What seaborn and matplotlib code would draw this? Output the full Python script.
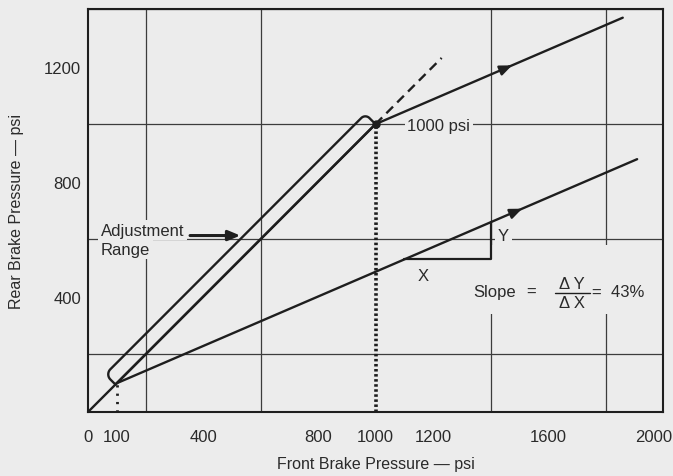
import numpy as np
import matplotlib
matplotlib.use("Agg")
import matplotlib.pyplot as plt
import matplotlib.transforms as mtransforms
import seaborn as sns

# Proportioning-valve characteristic, all pressures in psi
split_point = 1000      # front pressure where proportioning begins
min_split = 100         # lowest adjustable split point
slope = 0.43            # rear/front gain above the split point
dash_end = 1230         # 1:1 line continued past the split point

diag_front = [0, split_point]
diag_rear = [0, split_point]
high_front = [split_point, 1860]
low_front = [min_split, 1910]
high_rear = [split_point + slope * (f - split_point) for f in high_front]
low_rear = [min_split + slope * (f - min_split) for f in low_front]
dash_front = [split_point, dash_end]
dash_rear = [split_point, dash_end]

x_ticks = [0, 100, 400, 800, 1000, 1200, 1600, 2000]
y_ticks = [400, 800, 1200]
x_grid = list(range(0, 2001, 200))
y_grid = list(range(0, 1401, 200))

# adjustment band along the 1:1 line, in psi
band_width = 50
band_start = 135        # distance along the diagonal
band_r_top = 20
band_r_bot = 25

bg = "#ececec"
ink = "#1e1e1e"
grid_c = "#3c3c3c"
text_c = "#2a2a2a"

sns.set_theme(style="white")
plt.rcParams["font.family"] = ["Liberation Sans", "DejaVu Sans"]
plt.rcParams["text.color"] = text_c
plt.rcParams["axes.labelcolor"] = text_c
plt.rcParams["xtick.color"] = text_c
plt.rcParams["ytick.color"] = text_c

fig = plt.figure(figsize=(6.73, 4.77), dpi=100, facecolor=bg)
ax = fig.add_axes([88 / 673, 64 / 477, 575 / 673, 403 / 477], facecolor=bg)

ax.set_xlim(0, 2000)
ax.set_ylim(0, 1400)

# grid every 200 psi
ax.set_xticks(x_grid, minor=True)
ax.set_yticks(y_grid, minor=True)
ax.grid(which="minor", color=grid_c, lw=0.9, zorder=0)
ax.grid(which="major", visible=False)
ax.set_xticks(x_ticks)
ax.set_xticklabels([str(v) for v in x_ticks])
ax.set_yticks(y_ticks)
ax.set_yticklabels([str(v) for v in y_ticks])
ax.tick_params(axis="x", which="major", length=0, pad=12, labelsize=12)
ax.tick_params(axis="y", which="major", length=4, width=1, color=grid_c,
               direction="out", pad=1, labelsize=12)
ax.tick_params(which="minor", length=0)
for s in ax.spines.values():
    s.set_color(ink)
    s.set_linewidth(1.5)

# keep the last x label inside the figure edge
last = ax.get_xticklabels()[-1]
last.set_horizontalalignment("right")
last.set_transform(last.get_transform() +
                   mtransforms.ScaledTranslation(9 / 100, 0, fig.dpi_scale_trans))

ax.set_xlabel("Front Brake Pressure — psi", fontsize=11.5, labelpad=9)
ax.set_ylabel("Rear Brake Pressure — psi", fontsize=11.5, labelpad=14)

lw = 1.7
sns.lineplot(x=diag_front, y=diag_rear, ax=ax, color=ink, lw=lw, zorder=4)
sns.lineplot(x=high_front, y=high_rear, ax=ax, color=ink, lw=lw, zorder=4)
sns.lineplot(x=low_front, y=low_rear, ax=ax, color=ink, lw=lw, zorder=4)
sns.lineplot(x=dash_front, y=dash_rear, ax=ax, color=ink, lw=lw,
             linestyle=(0, (4, 2.5)), zorder=4)

# dotted drops to the split points
ax.plot([split_point, split_point], [0, split_point], color=ink, lw=2.6,
        linestyle=(0, (0.7, 0.7)), zorder=4)
ax.plot([min_split, min_split], [0, min_split], color=ink, lw=2.0,
        linestyle=(0, (0.8, 2.2)), zorder=4)
ax.plot([split_point], [split_point], "o", color=ink, ms=5, zorder=5)

# rounded adjustment band, built along the diagonal (u) and across it (v)
u1 = np.hypot(split_point, split_point)
u0 = band_start
w = band_width
t_top = np.linspace(0, np.pi / 2, 20)
t_bot = np.linspace(np.pi / 2, np.pi, 20)
u_pts = np.concatenate([[u0, u1, u1],
                        u1 - band_r_top + band_r_top * np.cos(t_top),
                        u0 + band_r_bot + band_r_bot * np.cos(t_bot),
                        [u0, u0]])
v_pts = np.concatenate([[0, 0, w - band_r_top],
                        w - band_r_top + band_r_top * np.sin(t_top),
                        w - band_r_bot + band_r_bot * np.sin(t_bot),
                        [w - band_r_bot, 0]])
band_x = (u_pts - v_pts) / np.sqrt(2)
band_y = (u_pts + v_pts) / np.sqrt(2)
ax.plot(band_x, band_y, color=ink, lw=lw, zorder=4)

head = "-|>,head_length=0.6,head_width=0.25"

# direction arrows on both proportioned lines
def line_arrow(xf, x_list, y_list):
    k = (y_list[1] - y_list[0]) / (x_list[1] - x_list[0])
    yf = y_list[0] + k * (xf - x_list[0])
    ax.annotate("", xy=(xf, yf), xytext=(xf - 40, yf - 40 * k),
                arrowprops=dict(arrowstyle=head, color=ink, lw=lw,
                                shrinkA=0, shrinkB=0),
                zorder=6)

line_arrow(1475, high_front, high_rear)
line_arrow(1510, low_front, low_rear)

label_box = dict(boxstyle="square,pad=0.15", fc=bg, ec="none")

ax.text(1110, 995, "1000 psi", fontsize=12, va="center", ha="left",
        bbox=label_box, zorder=3)

ax.text(45, 631, "Adjustment", fontsize=12, va="center", ha="left",
        bbox=label_box, zorder=3)
ax.text(45, 565, "Range", fontsize=12, va="center", ha="left",
        bbox=label_box, zorder=3)
ax.annotate("", xy=(530, 613), xytext=(355, 613),
            arrowprops=dict(arrowstyle=head, color=ink, lw=2.2,
                            shrinkA=0, shrinkB=0),
            zorder=6)

# rise-over-run triangle on the lower line
tri_y = 530
tri_x0 = min_split + (tri_y - min_split) / slope
tri_x1 = 1400
tri_top = min_split + slope * (tri_x1 - min_split)
ax.plot([tri_x0, tri_x1, tri_x1], [tri_y, tri_y, tri_top], color=ink,
        lw=1.6, zorder=4)
ax.text(1165, 475, "X", fontsize=12, ha="center", va="center",
        bbox=label_box, zorder=3)
ax.text(1445, 612, "Y", fontsize=12, ha="center", va="center",
        bbox=label_box, zorder=3)

# slope formula
ax.add_patch(plt.Rectangle((1322, 339), 645, 240, fc=bg, ec="none", zorder=2))
ax.text(1339, 418, "Slope", fontsize=12, ha="left", va="center", zorder=5)
ax.text(1541, 418, "=", fontsize=12, ha="center", va="center", zorder=5)
ax.text(1683, 447, "Δ Y", fontsize=12, ha="center", va="center", zorder=5)
ax.text(1683, 382, "Δ X", fontsize=12, ha="center", va="center", zorder=5)
ax.plot([1624, 1746], [414, 414], color=ink, lw=1.0, zorder=5)
ax.text(1753, 418, "=  43%", fontsize=12, ha="left", va="center", zorder=5)

fig.savefig("out.png", dpi=100, facecolor=bg)
